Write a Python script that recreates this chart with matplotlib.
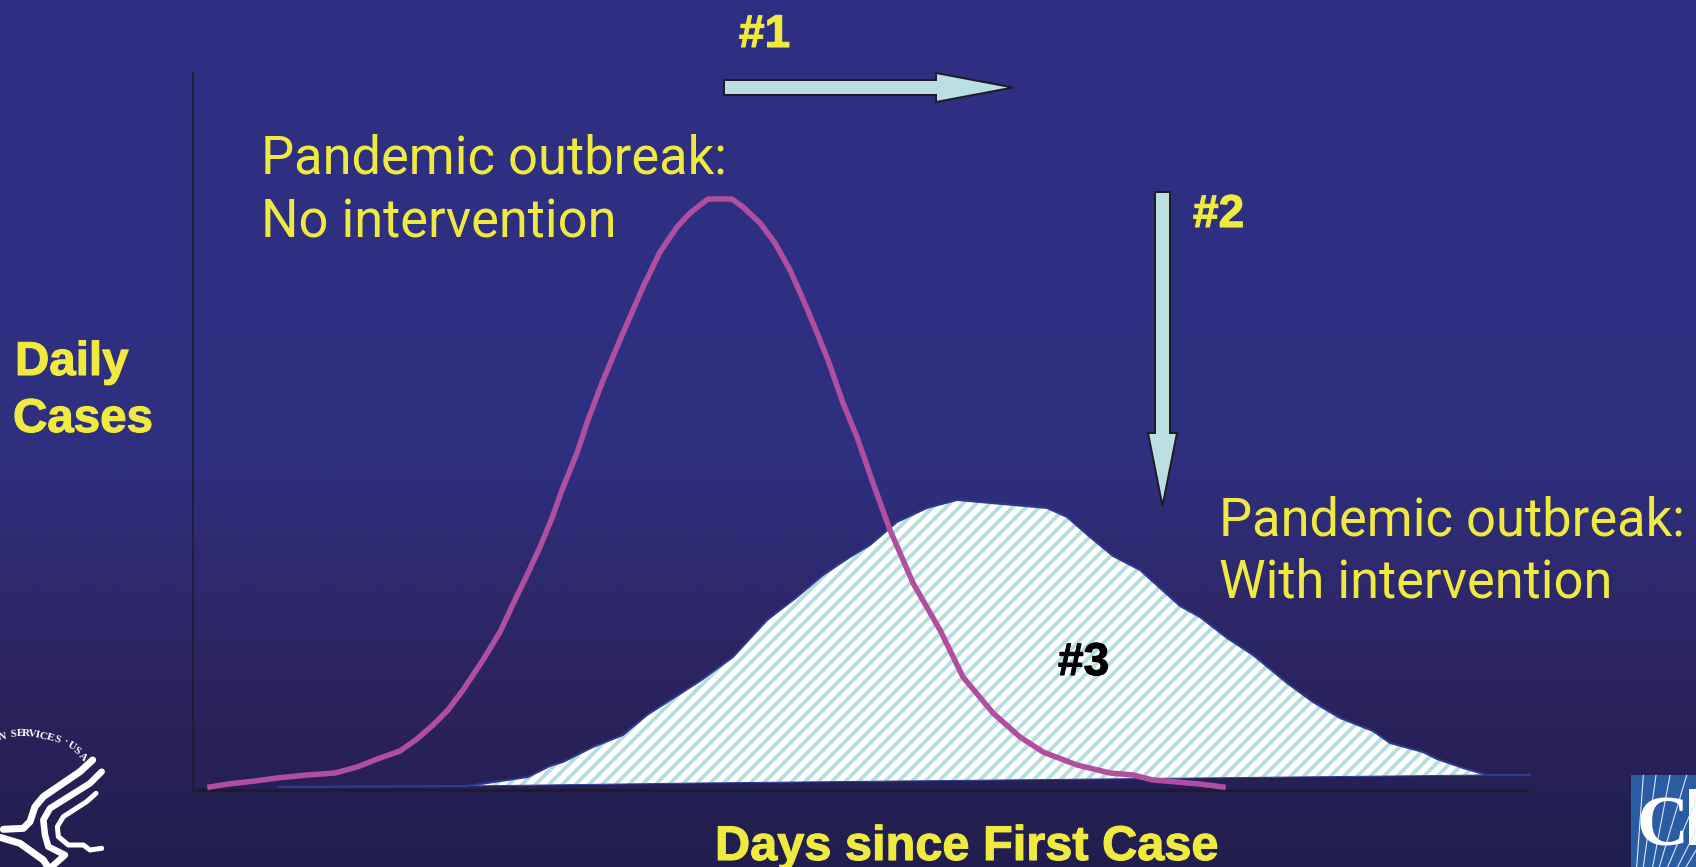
import numpy as np
import matplotlib
matplotlib.use("Agg")
import matplotlib.pyplot as plt
import matplotlib.patheffects as pe
from matplotlib.patches import Polygon, Rectangle

# ---- data (arbitrary units along both axes) ----
days_no = [17, 35, 62, 84, 114, 142, 164, 187, 207, 224, 240, 255, 270, 290, 307, 322, 335, 347, 359, 369,
           384, 395, 409, 424, 437, 450, 467, 484, 497, 515, 539, 550, 567, 582, 597, 609, 620, 635, 650, 664,
           680, 697, 720, 747, 770, 800, 827, 850, 884, 917, 940, 960, 984, 1007, 1030]
cases_no = [3, 6, 9, 12, 15, 17, 23, 32, 39, 51, 65, 80, 100, 130, 158, 190, 217, 243, 272, 300,
            337, 370, 407, 443, 473, 503, 538, 563, 577, 591, 591, 583, 567, 547, 520, 493, 467, 430, 387, 353,
            307, 260, 207, 160, 113, 77, 53, 38, 25, 17, 15, 10, 8, 6, 3]
days_with = [85, 274, 335, 357, 370, 400, 430, 454, 507, 540, 551, 574, 604, 630, 657, 677, 704, 734, 764, 854,
             874, 897, 920, 947, 987, 1007, 1034, 1060, 1094, 1120, 1147, 1180, 1197, 1230, 1244, 1270, 1294, 1337]
cases_with = [3, 4, 13, 24, 28, 43, 55, 75, 109, 133, 145, 170, 193, 215, 233, 245, 268, 282, 290, 282,
              273, 253, 234, 220, 184, 173, 152, 135, 107, 88, 72, 59, 47, 38, 31, 22, 15, 15]
base_days = [1294, 907, 507, 274]
base_cases = [15, 11, 7, 4]

W, H, DPI = 1696, 867, 160
px = lambda p: p * 72 / DPI
YELLOW = "#f0ea40"
ARROW = "#b9dfe0"
DARK = "#1e1c2a"

plt.rcParams["hatch.linewidth"] = 1.7
plt.rcParams["hatch.color"] = "#b5dfdf"

fig = plt.figure(figsize=(W / DPI, H / DPI), dpi=DPI)

# background gradient
bg = fig.add_axes([0, 0, 1, 1], zorder=0)
rows = np.arange(H)
stops_y = [0, 460, 600, 700, 867]
stops_c = np.array([[46, 48, 131], [46, 47, 127], [46, 40, 106], [43, 35, 93], [33, 30, 78]]) / 255
grad = np.stack([np.interp(rows, stops_y, stops_c[:, i]) for i in range(3)], axis=1)[:, None, :]
bg.imshow(grad, aspect="auto", extent=[0, W, H, 0], interpolation="bilinear")
bg.set_xlim(0, W)
bg.set_ylim(H, 0)
bg.axis("off")

# chart axes
ax = fig.add_axes([193 / W, (H - 790) / H, (1527 - 193) / W, (790 - 73) / H], zorder=1)
ax.patch.set_alpha(0)
ax.set_xlim(0, 1334)
ax.set_ylim(0, 717)
ax.set_xticks([])
ax.set_yticks([])
for s in ("top", "right"):
    ax.spines[s].set_visible(False)
ax.spines["left"].set_color(DARK)
ax.spines["left"].set_linewidth(px(1.6))
ax.spines["bottom"].set_color(DARK)
ax.spines["bottom"].set_linewidth(px(3.2))

ax.fill(days_with[1:-1] + base_days, cases_with[1:-1] + base_cases,
        facecolor="white", hatch="////", edgecolor="#b5dfdf", linewidth=0, zorder=2)
ax.plot(days_with, cases_with, color="#2f3a92", lw=px(2), zorder=3, clip_on=False)
ax.plot(base_days, base_cases, color="#2f3a92", lw=px(1), zorder=3, clip_on=False)
ax.plot(days_no, cases_no, color="#b04ea0", lw=px(5.5), zorder=4, clip_on=False,
        solid_joinstyle="round")

# overlay in image pixels for annotations and logos
ov = fig.add_axes([0, 0, 1, 1], zorder=2)
ov.set_xlim(0, W)
ov.set_ylim(H, 0)
ov.axis("off")

def label(x, y, s, size, bold=False, color=YELLOW):
    t = ov.text(x, y, s, fontsize=px(size), color=color, va="baseline", ha="left",
                fontweight="bold" if bold else "normal",
                family="Liberation Sans" if bold else "Roboto")
    if bold:
        t.set_path_effects([pe.withStroke(linewidth=0.5, foreground=color)])

label(261, 173, "Pandemic outbreak:", 52.5)
label(261, 237, "No intervention", 52.5)
label(1219, 535, "Pandemic outbreak:", 52.5)
label(1219, 598, "With intervention", 52.5)
label(15, 375, "Daily", 47.5, True)
label(13, 432, "Cases", 47.5, True)
label(715, 860, "Days since First Case", 48.7, True)
label(739, 47, "#1", 46, True)
label(1193, 227, "#2", 46, True)
label(1058, 675, "#3", 46, True, color="black")

ov.add_patch(Polygon([(724, 80), (936, 80), (936, 73), (1013, 87.5), (936, 102), (936, 95), (724, 95)],
                     closed=True, fc=ARROW, ec=DARK, lw=px(2), joinstyle="miter"))
ov.add_patch(Polygon([(1155, 192), (1170, 192), (1170, 433), (1177, 433), (1162.5, 506), (1148, 433), (1155, 433)],
                     closed=True, fc=ARROW, ec=DARK, lw=px(2), joinstyle="miter"))

# HHS logo (coordinates taken from a 3x crop starting at y=680)
def z(points):
    a = np.array(points, float) / 3
    a[:, 1] += 680
    return a[:, 0], a[:, 1]

strokes = [
    ([(278, 240), (240, 275), (130, 350), (105, 380), (90, 425), (70, 445), (10, 448)], 7),
    ([(305, 275), (270, 310), (150, 385), (130, 420), (135, 465), (145, 500), (195, 525), (150, 565)], 6.5),
    ([(288, 340), (260, 365), (190, 410), (172, 440), (175, 470), (205, 495), (250, 495), (270, 510), (305, 505)], 5),
    ([(0, 472), (60, 490), (130, 540), (150, 570)], 7),
]
for pts, w in strokes:
    xs, ys = z(pts)
    ov.plot(xs, ys, color="white", lw=px(w), solid_capstyle="round", solid_joinstyle="round")

letters = [("N", 6, 170, 8), ("S", 40, 163, 5), ("E", 60, 160, 2), ("R", 78, 161, -2), ("V", 97, 163, -8),
           ("I", 113, 166, -12), ("C", 130, 170, -14), ("E", 150, 174, -18), ("S", 172, 180, -20),
           ("\u00b7", 197, 188, -25), ("U", 215, 198, -32), ("S", 230, 213, -38), ("A", 247, 230, -45)]
for ch, lx, ly, rot in letters:
    ov.text(lx / 3, 680 + ly / 3, ch, fontsize=px(11), color="white", family="Liberation Serif", fontweight="bold",
            rotation=rot, rotation_mode="anchor", ha="center", va="center")

# CDC logo (coordinates taken from a 3x crop starting at (1616, 767))
ov.add_patch(Rectangle((1631, 775), 65, 92, fc="#2a5ca3", ec="none"))
fan = [((82, 25), (62, 300)), ((120, 25), (82, 300)), ((162, 25), (110, 300)), ((212, 25), (130, 300)),
       ((240, 100), (155, 300)), ((240, 190), (185, 300)), ((240, 250), (210, 300))]
for a, b in fan:
    ov.plot([1616 + a[0] / 3, 1616 + b[0] / 3], [767 + a[1] / 3, 767 + b[1] / 3], color="#dfe8f2", lw=px(1.1))
ov.text(1637, 845, "C", fontsize=px(72), color="white", family="Liberation Serif", fontweight="bold",
        ha="left", va="baseline")
ov.add_patch(Rectangle((1689, 789), 7, 56, fc="white", ec="none"))

fig.savefig("out.png", dpi=DPI)
